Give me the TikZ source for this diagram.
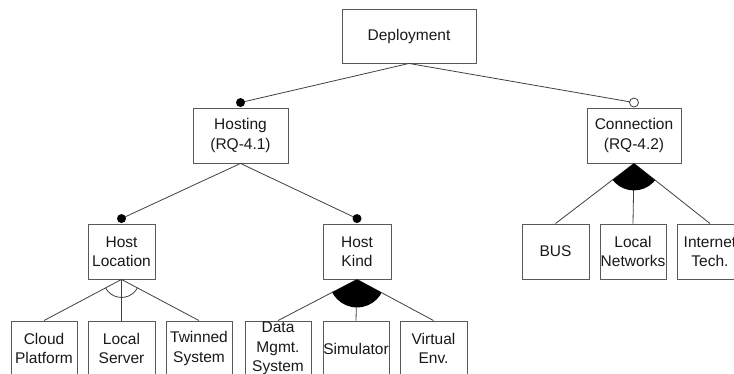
\documentclass[tikz,border=0pt]{standalone}
\usepackage{fontspec}
\setmainfont{Liberation Sans}
\usetikzlibrary{calc}
\begin{document}
\begin{tikzpicture}[x=1pt,y=-1pt,
  feat/.style={draw=black!65, line width=0.9pt, fill=white, inner sep=0pt, align=center,
     font=\fontsize{15.5}{19.5}\selectfont, text=black!90},
  edge/.style={draw=black!75, line width=0.8pt},
  dotm/.style={fill=black},
  doto/.style={draw=black!75, line width=0.8pt, fill=white}]
\clip (0,0) rectangle (734,374);
\useasboundingbox (0,0) rectangle (734,374);
\fill[white] (0,0) rectangle (734,374);

\node[feat, minimum width=134pt, minimum height=54pt] (dep) at (409,36) {Deployment};
\node[feat, minimum width=95pt, minimum height=55pt] (host) at (240.5,135.5) {Hosting\\(RQ-4.1)};
\node[feat, minimum width=94pt, minimum height=55pt] (conn) at (634,135.5) {Connection\\(RQ-4.2)};
\node[feat, minimum width=67pt, minimum height=55pt] (hloc) at (121.5,251.5) {Host\\Location};
\node[feat, minimum width=68pt, minimum height=55pt] (hkind) at (357,251.5) {Host\\Kind};
\node[feat, minimum width=67pt, minimum height=55pt] (bus) at (555.5,251.5) {BUS};
\node[feat, minimum width=66pt, minimum height=55pt] (lnet) at (633,251.5) {Local\\Networks};
\node[feat, minimum width=66pt, minimum height=55pt] (inet) at (710,251.5) {Internet\\Tech.};
\node[feat, minimum width=66pt, minimum height=55pt] (cloud) at (44,348.5) {Cloud\\Platform};
\node[feat, minimum width=67pt, minimum height=55pt] (lserv) at (121.5,348.5) {Local\\Server};
\node[feat, minimum width=66pt, minimum height=55pt] (twin) at (199,348.5) {Twinned\\System};
\node[feat, minimum width=66pt, minimum height=55pt] (data) at (278,348.5) {Data\\Mgmt.\\System};
\node[feat, minimum width=66pt, minimum height=55pt] (sim) at (356,348.5) {Simulator};
\node[feat, minimum width=67pt, minimum height=55pt] (virt) at (433.5,348.5) {Virtual\\Env.};

\coordinate (hdot) at ($(host.north)+(0,-5)$);
\coordinate (cdot) at ($(conn.north)+(0,-5)$);
\coordinate (ldot) at ($(hloc.north)+(0,-5)$);
\coordinate (kdot) at ($(hkind.north)+(0,-5)$);

\draw[edge] (dep.south) -- (hdot);
\draw[edge] (dep.south) -- (cdot);
\draw[edge] (host.south) -- (ldot);
\draw[edge] (host.south) -- (kdot);
\fill[dotm] (hdot) circle (4.5);
\fill[dotm] (ldot) circle (4.5);
\fill[dotm] (kdot) circle (4.5);
\draw[doto] (cdot) circle (4.5);

\draw[edge] (conn.south) -- (bus.north);
\draw[edge] (conn.south) -- (lnet.north);
\draw[edge] (conn.south) -- (inet.north);
\begin{scope}
\clip (conn.south) -- (bus.north) -- (inet.north) -- cycle;
\fill (conn.south) circle (27);
\end{scope}

\draw[edge] (hloc.south) -- (cloud.north);
\draw[edge] (hloc.south) -- (lserv.north);
\draw[edge] (hloc.south) -- (twin.north);
\begin{scope}
\clip (hloc.south) -- (cloud.north) -- (twin.north) -- cycle;
\draw[edge] (hloc.south) circle (18);
\end{scope}

\draw[edge] (hkind.south) -- (data.north);
\draw[edge] (hkind.south) -- (sim.north);
\draw[edge] (hkind.south) -- (virt.north);
\begin{scope}
\clip (hkind.south) -- (data.north) -- (virt.north) -- cycle;
\fill (hkind.south) circle (28);
\end{scope}
\end{tikzpicture}
\end{document}
